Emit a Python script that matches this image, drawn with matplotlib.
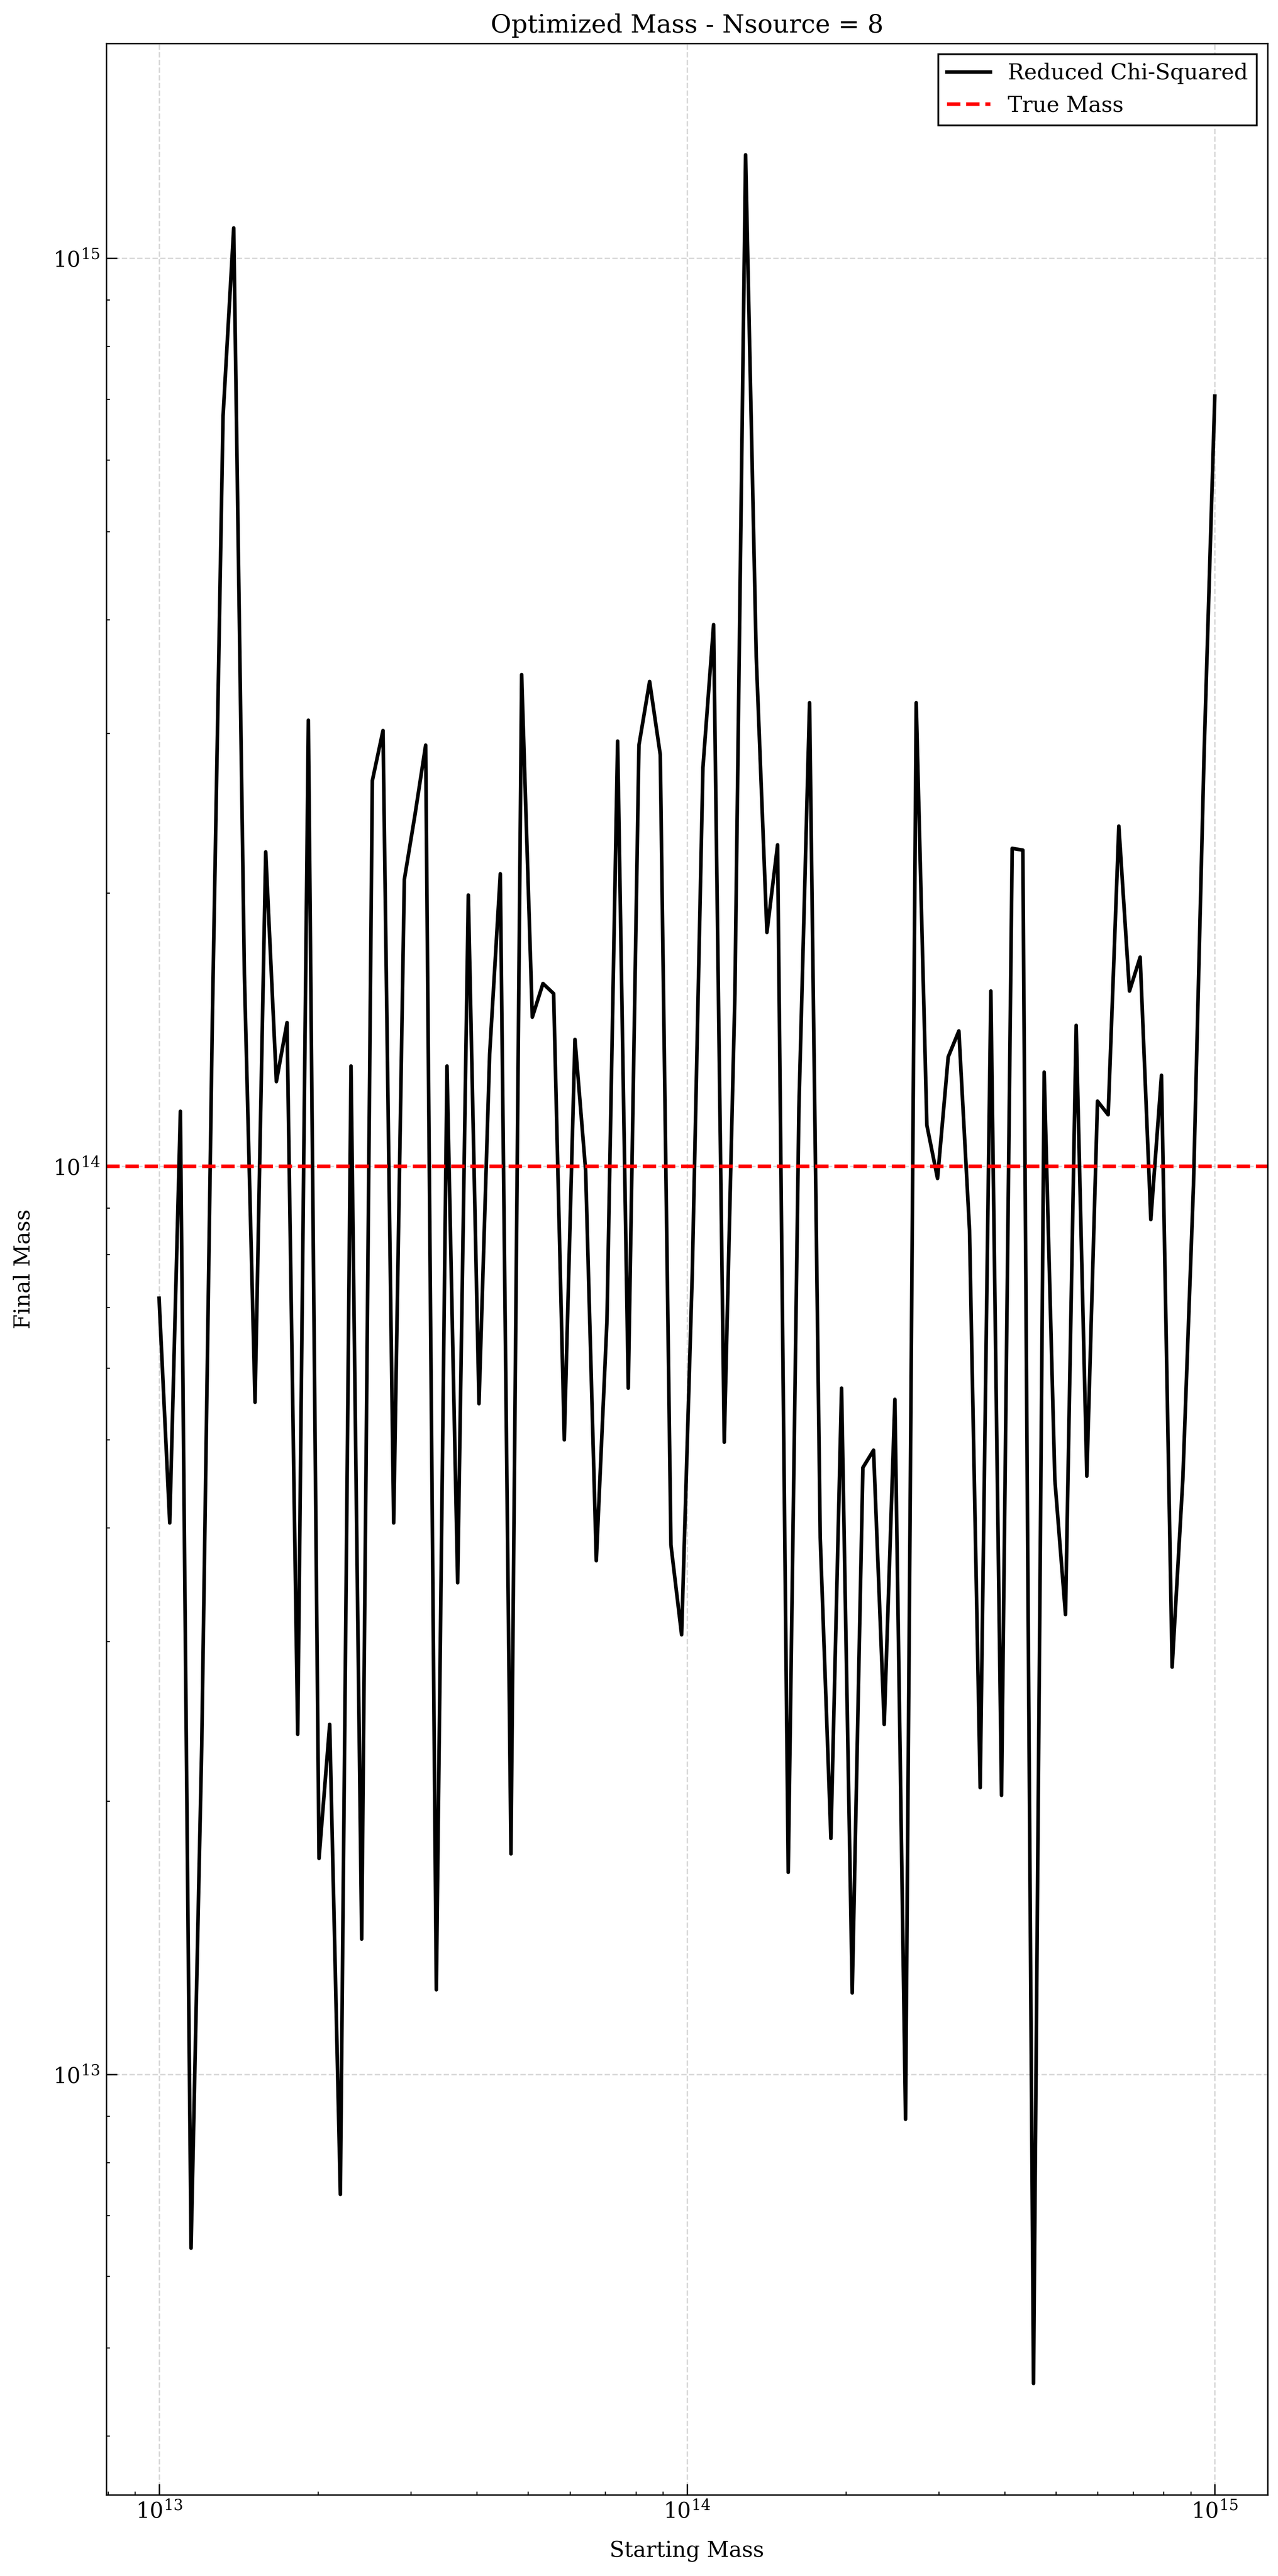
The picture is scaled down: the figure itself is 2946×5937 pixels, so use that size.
import numpy as np
import matplotlib
matplotlib.use("Agg")
from matplotlib import pyplot as plt

plt.rcParams['font.family'] = 'serif'
plt.rcParams['font.serif'] = ['DejaVu Serif']
plt.rcParams['mathtext.fontset'] = 'dejavuserif'

# starting masses: 100 log-spaced starts between 1e13 and 1e15
starting_mass = np.logspace(13, 15, 100)

# optimized (final) masses
final_mass = [
    7.16e13, 4.05e13, 1.15e14, 6.44e12, 2.30e13, 1.46e14, 6.70e14, 1.08e15, 1.63e14, 5.50e13,
    2.22e14, 1.24e14, 1.44e14, 2.37e13, 3.10e14, 1.73e13, 2.43e13, 7.38e12, 1.29e14, 1.41e13,
    2.66e14, 3.02e14, 4.05e13, 2.07e14, 2.44e14, 2.91e14, 1.24e13, 1.29e14, 3.48e13, 1.99e14,
    5.48e13, 1.33e14, 2.10e14, 1.75e13, 3.48e14, 1.46e14, 1.59e14, 1.55e14, 5.00e13, 1.38e14,
    9.90e13, 3.68e13, 6.76e13, 2.94e14, 5.70e13, 2.91e14, 3.42e14, 2.84e14, 3.83e13, 3.05e13,
    7.62e13, 2.75e14, 3.95e14, 4.97e13, 1.55e14, 1.30e15, 3.64e14, 1.81e14, 2.26e14, 1.67e13,
    1.16e14, 3.24e14, 3.90e13, 1.82e13, 5.70e13, 1.23e13, 4.66e13, 4.87e13, 2.43e13, 5.54e13,
    8.93e12, 3.24e14, 1.11e14, 9.70e13, 1.32e14, 1.41e14, 8.51e13, 2.07e13, 1.56e14, 2.03e13,
    2.24e14, 2.23e14, 4.57e12, 1.27e14, 4.52e13, 3.21e13, 1.43e14, 4.56e13, 1.18e14, 1.14e14,
    2.37e14, 1.56e14, 1.70e14, 8.74e13, 1.26e14, 2.81e13, 4.52e13, 9.53e13, 2.86e14, 7.05e14,
]
true_mass = 1e14
nsource = 8

fig = plt.figure(figsize=(2946 / 300.0, 5937 / 300.0), dpi=300)
ax = fig.add_axes([245 / 2946.0, 1 - 5750 / 5937.0, (2922 - 245) / 2946.0, (5750 - 100) / 5937.0])

ax.plot(starting_mass, final_mass, color='black', lw=2, label='Reduced Chi-Squared')
ax.axhline(true_mass, color='red', linestyle='--', lw=2, label='True Mass')
ax.set_xscale('log')
ax.set_yscale('log')

ax.set_title('Optimized Mass - Nsource = {}'.format(nsource), fontsize=14)
ax.set_xlabel('Starting Mass', fontsize=12, labelpad=10)
ax.set_ylabel('Final Mass', fontsize=12, labelpad=10)
ax.tick_params(which='both', direction='in', labelsize=12)
ax.tick_params(which='major', length=6)
ax.grid(True, which='major', linestyle='--', color='gray', alpha=0.3)
ax.legend(loc='upper right', fontsize=12, fancybox=False, edgecolor='black', framealpha=1)

fig.savefig('out.png', dpi=300)
